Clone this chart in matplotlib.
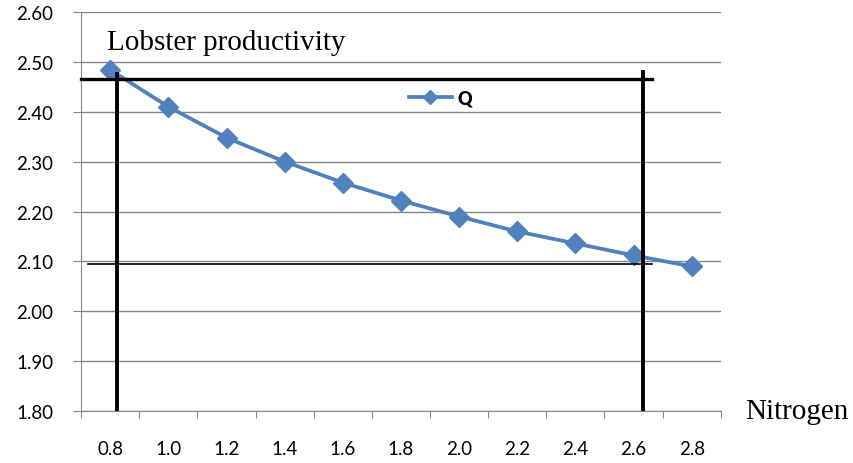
import matplotlib.pyplot as plt
import numpy as np

plt.rcParams["font.family"] = ["Lato", "DejaVu Sans"]

# nitrogen levels and lobster productivity Q
nitrogen = ["0.8", "1.0", "1.2", "1.4", "1.6", "1.8", "2.0", "2.2", "2.4", "2.6", "2.8"]
q_values = [2.484, 2.410, 2.348, 2.300, 2.258, 2.222, 2.190, 2.160, 2.136, 2.112, 2.090]

# hand-drawn guide lines (x in category index units, y in Q units)
upper_level = 2.465
lower_level = 2.094
left_mark = 0.12
right_mark = 9.17
guide_end = 9.31
guide_top = 2.476

fig = plt.figure(figsize=(8.54, 4.64), dpi=100)
ax = fig.add_axes([0.095, 0.112, 0.749, 0.86])

x = np.arange(len(nitrogen))
ax.plot(x, q_values, color="#4F81BD", lw=2.7, marker="D", markersize=10,
        label="Q", zorder=3)

ax.set_xlim(-0.5, len(nitrogen) - 0.5)
ax.set_ylim(1.80, 2.60)
yt = np.arange(1.80, 2.601, 0.10)
ax.set_yticks(yt, [f"{v:.2f}" for v in yt], fontsize=13.5)

# category axis: tick marks between categories, labels centred
ax.set_xticks(np.arange(-0.5, len(nitrogen)), [""] * (len(nitrogen) + 1))
ax.set_xticks(x, nitrogen, minor=True, fontsize=13.5)
ax.tick_params(axis="x", which="major", direction="out", length=5, color="#868686")
ax.tick_params(axis="x", which="minor", length=0, pad=21)
ax.tick_params(axis="y", direction="out", length=6, color="#868686", pad=14)

ax.grid(axis="y", color="#868686", lw=1.0)
for side in ["top", "right"]:
    ax.spines[side].set_visible(False)
ax.spines["left"].set_color("#868686")
ax.spines["bottom"].set_color("#868686")

# guide lines
ax.plot([-0.5, guide_end], [upper_level, upper_level], color="black", lw=2.4,
        zorder=4, clip_on=False)
ax.plot([-0.38, guide_end], [lower_level, lower_level], color="black", lw=1.2,
        zorder=4)
ax.plot([left_mark, left_mark], [1.80, guide_top], color="black", lw=2.8, zorder=4)
ax.plot([right_mark, right_mark], [1.80, guide_top + 0.004], color="black", lw=2.8,
        zorder=4)

leg = ax.legend(loc="center left", bbox_to_anchor=(0.512, 0.785), frameon=False,
                borderaxespad=0, borderpad=0, handlelength=2.4, handletextpad=0.3,
                markerscale=0.75, prop={"weight": "heavy", "size": 13})

fig.text(0.125, 0.908, "Lobster productivity", fontsize=21,
         family=["Liberation Serif"], va="center", ha="left")
fig.text(0.873, 0.112, "Nitrogen", fontsize=21,
         family=["Liberation Serif"], va="center", ha="left")

fig.savefig("out.png", dpi=100)
